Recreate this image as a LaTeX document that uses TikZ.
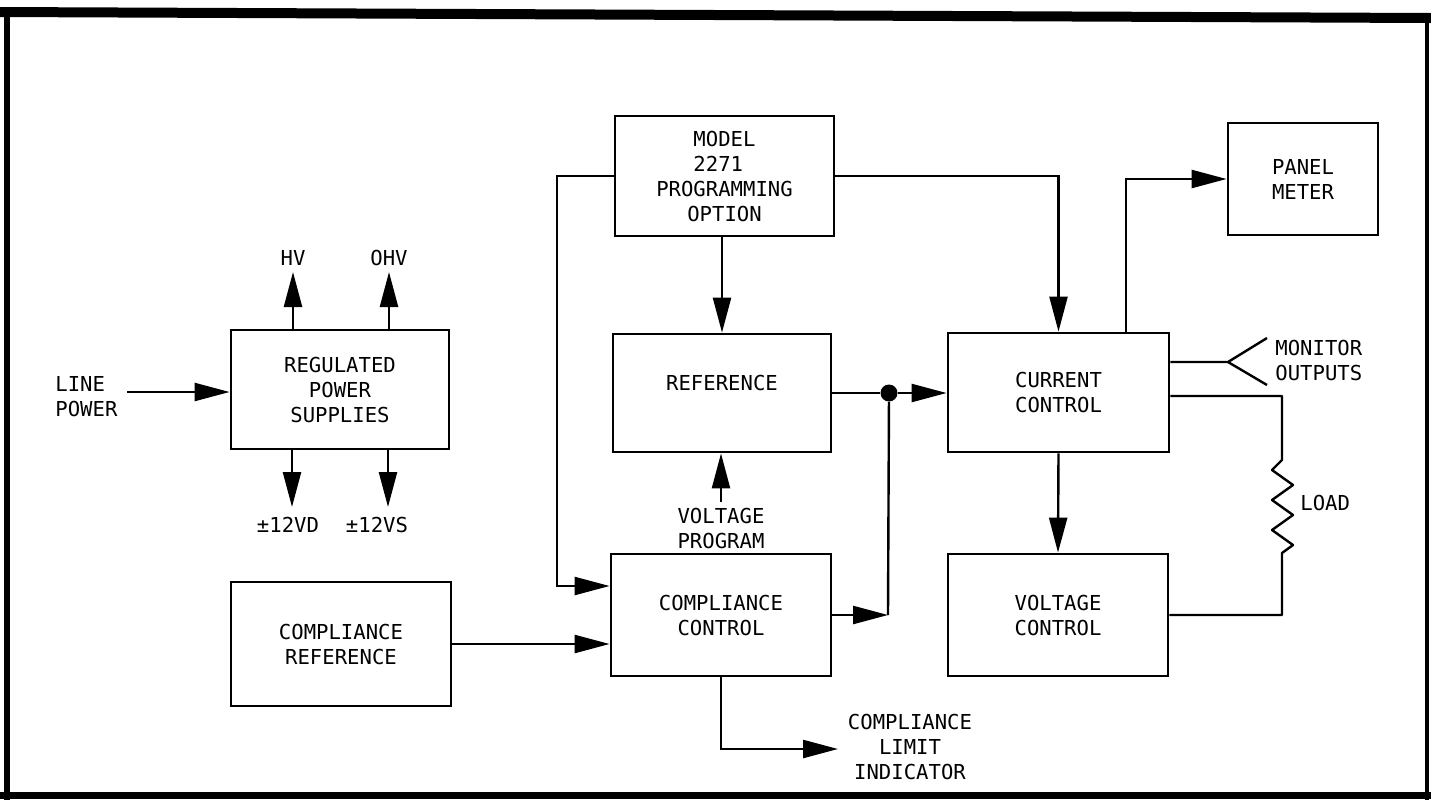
\documentclass[tikz,border=0pt]{standalone}
\usepackage{fontspec}
\setmonofont{DejaVu Sans Mono}
\usetikzlibrary{arrows.meta,calc}
\newcommand\lblfont{\ttfamily\fontsize{10.3pt}{12.5pt}\selectfont}
\tikzset{
  blk/.style={draw, line width=1.4pt, inner sep=0pt, align=center, font=\lblfont},
  wire/.style={line width=1.2pt},
  arr/.style={wire, -{Triangle[length=17.5pt,width=9pt]}},
  lbl/.style={font=\lblfont, align=center, inner sep=0pt},
  frame/.style={line cap=rect},
}
\begin{document}
\begin{tikzpicture}[x=0.5pt,y=-0.5pt]
\useasboundingbox (0,0) rectangle (1431,799);
% frame
\draw[frame, line width=5pt] (0,12) -- (1431,18);
\draw[frame, line width=3pt] (7,10) -- (7,799);
\draw[frame, line width=3.5pt] (0,795) -- (1431,795);
\draw[frame, line width=2pt] (1427,16) -- (1427,799);

% boxes
\node[blk, minimum width=109pt, minimum height=59.5pt] (rps) at (340,389.5) {REGULATED\\POWER\\SUPPLIES};
\node[blk, minimum width=110pt, minimum height=62pt] (cref) at (341,644) {COMPLIANCE\\REFERENCE};
\node[blk, minimum width=109.5pt, minimum height=60pt] (prog) at (724.5,176) {MODEL\\2271\hphantom{0}\\PROGRAMMING\\OPTION};
\node[blk, minimum width=109pt, minimum height=59pt] (ref) at (722,393) {\raisebox{0pt}[\height][10pt]{REFERENCE}};
\node[blk, minimum width=110pt, minimum height=61pt] (cc) at (721,615) {COMPLIANCE\\CONTROL};
\node[blk, minimum width=110.5pt, minimum height=59.5pt] (cur) at (1058.5,392.5) {CURRENT\\CONTROL};
\node[blk, minimum width=110pt, minimum height=61pt] (vc) at (1058,615) {VOLTAGE\\CONTROL};
\node[blk, minimum width=75pt, minimum height=56pt] (pm) at (1303,179) {PANEL\\METER};

% labels
\node[lbl, align=left, anchor=west] (lp) at (55,396.5) {LINE\\POWER};
\node[lbl] (hv) at (293,258) {HV};
\node[lbl] (ohv) at (389,258) {OHV};
\node[lbl] (vd) at (288,525) {±12VD};
\node[lbl] (vs) at (377,525) {±12VS};
\node[lbl] (vp) at (721,528.5) {VOLTAGE\\PROGRAM};
\node[lbl] (cli) at (910,747) {COMPLIANCE\\LIMIT\\INDICATOR};
\node[lbl, align=left, anchor=west] (mo) at (1275,360) {MONITOR\\OUTPUTS};
\node[lbl, anchor=west] (ld) at (1300,503) {LOAD};

% coordinates
\coordinate (lps) at (127,392);
\coordinate (hvt) at (293,272);
\coordinate (ohvt) at (389,272);
\coordinate (vdt) at (292,507);
\coordinate (vst) at (388,507);
\coordinate (pl) at (557,586);
\coordinate (vpt) at (721,502);
\coordinate (jb) at (888,615);
\coordinate (cl) at (838,749);
\coordinate (pmx) at (1126,179);
\coordinate (mj) at (1228,362);
\coordinate (m1) at (1267,338);
\coordinate (m2) at (1267,385);
\coordinate (lt) at (1282,396);
\coordinate (lz) at (1282,460);
\coordinate (lb) at (1282,615);

% connectors
\draw[arr] (lps) -- (lps -| rps.west);
\draw[arr] (rps.north -| hvt) -- (hvt);
\draw[arr] (rps.north -| ohvt) -- (ohvt);
\draw[arr] (rps.south -| vdt) -- (vdt);
\draw[arr] (rps.south -| vst) -- (vst);

\draw[arr] (cref.east) -- (cref.east -| cc.west);
\draw[arr] (prog.west) -| (pl) -- (pl -| cc.west);
\draw[arr] (prog.south -| ref.north) -- (ref.north);
\draw[arr] (prog.east) -| (cur.north);

\node[circle, fill, inner sep=0pt, minimum size=8.5pt] (dot) at (889,393) {};
\draw[wire] (ref.east) -- (dot);
\draw[arr] (dot) -- (dot -| cur.west);
\draw[wire] (dot) -- (jb);
\draw[arr] (cc.east) -- (jb);

\draw[arr] (vpt) -- (vpt |- ref.south);
\draw[arr] (cc.south) |- (cl);

\draw[arr] (cur.north -| pmx) |- (pm.west);
\draw[wire] (cur.east |- mj) -- (mj) -- (m1);
\draw[wire] (mj) -- (m2);
\draw[wire, line join=round] (cur.east |- lt) -- (lt) -- (lz) -- ++(-10,10) -- ++(21,15) -- ++(-21,15) -- ++(21,15) -- ++(-21,15) -- ++(21,15) -- ++(-11,8) -- (lb) -- (lb -| vc.east);
\draw[arr] (cur.south) -- (vc.north);
\end{tikzpicture}
\end{document}
